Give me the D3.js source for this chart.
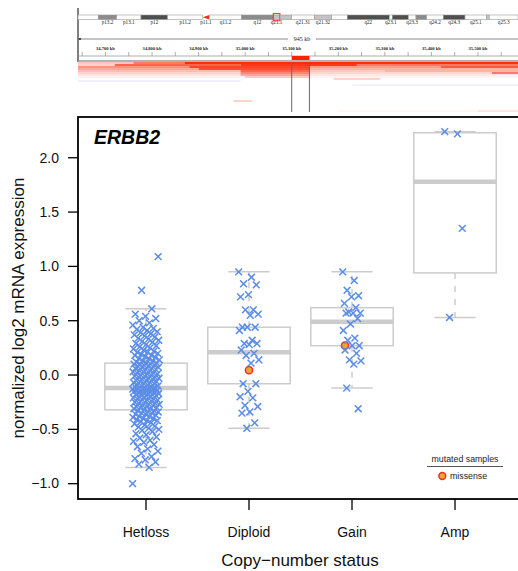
<!DOCTYPE html>
<html>
<head>
<meta charset="utf-8">
<script src="https://cdn.jsdelivr.net/npm/d3@7"></script>
<style>
  body { margin: 0; background: #fff; }
  svg { display: block; }
  text { font-family: "Liberation Sans", Arial, sans-serif; }
  .tiny { font-family: "Liberation Serif", "DejaVu Serif", serif; }
</style>
</head>
<body>
<svg id="chart" width="518" height="571"></svg>
<script>
(function() {
  // ---- data ----
  var categories = ['Hetloss', 'Diploid', 'Gain', 'Amp'];

  // boxplot statistics as drawn (low whisker, q1, median, q3, high whisker)
  var boxLow = [-0.85, -0.49, -0.12, 0.53];
  var boxQ1 = [-0.32, -0.08, 0.27, 0.94];
  var boxMed = [-0.12, 0.21, 0.49, 1.78];
  var boxQ3 = [0.11, 0.44, 0.62, 2.23];
  var boxHigh = [0.61, 0.95, 0.95, 2.24];

  var hetlossVals = [
    -1.00, -0.85, -0.82, -0.80, -0.78, -0.77, -0.75, -0.72, -0.70, -0.68, -0.66, -0.64,
    -0.62, -0.61, -0.60, -0.58, -0.57, -0.55, -0.54, -0.52, -0.51, -0.50, -0.49, -0.48, -0.47, -0.46, -0.45,
    -0.44, -0.43, -0.42, -0.42, -0.41, -0.40, -0.40, -0.39, -0.38, -0.38, -0.37, -0.36, -0.36, -0.35, -0.35,
    -0.34, -0.34, -0.33, -0.33, -0.32,
    -0.31, -0.31, -0.30, -0.30, -0.29, -0.29, -0.28, -0.28, -0.27, -0.27, -0.26, -0.26, -0.25, -0.25,
    -0.24, -0.24, -0.23, -0.23, -0.22, -0.22, -0.21, -0.21, -0.20, -0.20, -0.19, -0.19, -0.18, -0.18,
    -0.18, -0.17, -0.17, -0.16, -0.16, -0.16, -0.15, -0.15, -0.15, -0.14, -0.14, -0.14, -0.13, -0.13,
    -0.13, -0.12, -0.12, -0.12, -0.12,
    -0.11, -0.11, -0.10, -0.10, -0.09, -0.09, -0.08, -0.08, -0.07, -0.07, -0.06, -0.06, -0.05, -0.05,
    -0.04, -0.04, -0.03, -0.03, -0.02, -0.02, -0.01, -0.01, 0.00, 0.00, 0.01, 0.01, 0.02, 0.02, 0.03,
    0.03, 0.04, 0.04, 0.05, 0.05, 0.06, 0.06, 0.07, 0.07, 0.08, 0.08, 0.09, 0.09, 0.10, 0.10, 0.10,
    0.11, 0.11,
    0.12, 0.13, 0.13, 0.14, 0.15, 0.15, 0.16, 0.17, 0.18, 0.18, 0.19, 0.20, 0.21, 0.21, 0.22, 0.23,
    0.24, 0.25, 0.26, 0.27, 0.28, 0.29, 0.30, 0.31, 0.32, 0.33, 0.34, 0.35, 0.36, 0.37, 0.38, 0.39,
    0.40, 0.41, 0.42, 0.43, 0.44, 0.46, 0.48, 0.50, 0.52, 0.54, 0.56, 0.61, 0.78, 1.09
  ];
  var diploidVals = [
    0.95, 0.90, 0.84, 0.83, 0.74, 0.72, 0.60, 0.60, 0.56, 0.55, 0.44, 0.44, 0.44, 0.41, 0.32,
    0.29, 0.29, 0.28, 0.23, 0.20, 0.18, 0.14, 0.11, -0.08, -0.08, -0.15, -0.20, -0.21, -0.28,
    -0.29, -0.34, -0.35, -0.44, -0.49
  ];
  var gainVals = [
    0.95, 0.87, 0.78, 0.73, 0.72, 0.66, 0.62, 0.58, 0.57, 0.57, 0.57, 0.52, 0.47, 0.41, 0.34,
    0.32, 0.27, 0.27, 0.23, 0.20, 0.14, 0.13, 0.10, -0.12, -0.31
  ];
  var ampVals = [2.24, 2.22, 0.53, 1.35];

  // mutated samples (category index, value)
  var mutCat = [1, 2];
  var mutVal = [0.045, 0.27];
  var mutType = ['missense', 'missense'];

  var yTicks = [-1.0, -0.5, 0.0, 0.5, 1.0, 1.5, 2.0];

  // chromosome 17 ideogram bands (Mb, as drawn)
  var bandName = ['p13.3', 'p13.2', 'p13.1', 'p12', 'p11.2', 'p11.1', 'q11.2', 'q12', 'q21.1', 'q21.2',
    'q21.31', 'q21.32', 'q21.33', 'q22', 'q23.1', 'q23.2', 'q23.3', 'q24.1', 'q24.2', 'q24.3',
    'q25.1', 'q25.2', 'q25.3'];
  var bandStart = [0, 3.64, 6.93, 11.28, 16.06, 22.33, 23.51, 29.32, 34.97, 36.17, 38.27, 42.32,
    45.43, 48.23, 55.75, 56.29, 59.15, 60.53, 62.45, 65.42, 69.31, 73.19, 73.66];
  var bandEnd = [3.64, 6.93, 11.28, 16.06, 22.33, 23.51, 29.32, 34.97, 36.17, 38.27, 42.32, 45.43,
    48.23, 55.75, 56.29, 59.15, 60.53, 62.45, 65.42, 69.31, 73.19, 73.66, 78.8];
  var bandStain = ['gneg', 'gpos50', 'gneg', 'gpos75', 'gneg', 'acen', 'gneg', 'gpos50', 'gpos25',
    'gpos25', 'gneg', 'gpos25', 'gneg', 'gpos75', 'gneg', 'gpos75', 'gneg', 'gpos50', 'gneg',
    'gpos75', 'gneg', 'gpos25', 'gneg'];
  var bandLabelled = [false, true, true, true, true, true, true, true, true, false, true, true,
    false, true, true, false, true, false, true, true, true, false, true];
  var focusBand = 'q21.1';

  var kbTicks = [34700, 34800, 34900, 35000, 35100, 35200, 35300, 35400, 35500];
  var kbMinor = [34650, 34700, 34750, 34800, 34850, 34900, 34950, 35000, 35050, 35100, 35150,
    35200, 35250, 35300, 35350, 35400, 35450, 35500, 35550];
  var regionKb = [34641, 35586];
  var spanKb = 945;
  var geneKb = [35100, 35138];

  // copy-number heatmap rows: segments [start kb, end kb, value]
  var heatRows = [
    [[34641, 34760, 0.25], [34760, 34870, 0.6], [34870, 35586, 0.95]],
    [[34641, 34720, 0.2], [34720, 34990, 0.7], [34990, 35240, 0.9], [35240, 35586, 0.6]],
    [[34641, 34880, 0.5], [34880, 35140, 0.85], [35140, 35420, 0.45], [35420, 35586, 0.75]],
    [[34641, 34900, 0.4], [34900, 35140, 0.8], [35140, 35586, 0.35]],
    [[34641, 34990, 0.3], [34990, 35140, 0.7], [35140, 35300, 0.25], [35300, 35586, 0.35]],
    [[34641, 34990, 0.2], [34990, 35140, 0.55], [35140, 35530, 0.18], [35530, 35586, 0.6]],
    [[34641, 34990, 0.12], [34990, 35140, 0.4], [35140, 35586, 0.1]],
    [[34641, 35000, 0.06], [35000, 35140, 0.25], [35140, 35586, 0.05]],
    [[35190, 35290, 0.2]],
    [[34641, 34990, -0.07]],
    [],
    [[35230, 35586, -0.06]],
    [], [], [], [], [], [], [],
    [[34975, 35015, 0.2]],
    [], [], [], [],
    [[35200, 35500, 0.04], [35500, 35586, 0.12]]
  ];

  // ---- layout ----
  var svg = d3.select('#chart');
  var left = 78, right = 523, top = 117, bottom = 499;
  var crossColor = '#5b8de8', boxColor = '#cccccc';

  var x = d3.scaleLinear().domain([0.34, 4.66]).range([left, right]);
  var y = d3.scaleLinear().domain([-1.141, 2.375]).range([bottom, top]);
  var mb = d3.scaleLinear().domain([0, 78.8]).range([78, 518]);
  var kb = d3.scaleLinear().domain(regionKb).range([78, 518]);
  var heat = d3.scaleLinear().domain([-1, 0, 1]).range(['#2020ff', '#ffffff', '#ff2200']);
  var stainFill = { gneg: '#ffffff', gpos25: '#c4c4c4', gpos50: '#8c8c8c', gpos75: '#4f4f4f' };

  // ---- header: ideogram ----
  var ideo = svg.append('g');
  ideo.append('line').attr('x1', 78).attr('x2', 78).attr('y1', 8).attr('y2', 62)
    .attr('stroke', '#000').attr('stroke-width', 1);
  bandName.forEach(function(name, i) {
    if (bandStain[i] === 'acen') {
      ideo.append('polygon')
        .attr('points', [[mb(bandStart[i]), 17.3], [mb(bandEnd[i]), 15], [mb(bandEnd[i]), 19.6]].join(' '))
        .attr('fill', '#e8341c');
    } else {
      ideo.append('rect').attr('x', mb(bandStart[i])).attr('y', 15)
        .attr('width', mb(bandEnd[i]) - mb(bandStart[i])).attr('height', 4.6)
        .attr('fill', stainFill[bandStain[i]]).attr('stroke', '#999').attr('stroke-width', 0.6);
    }
    if (bandLabelled[i]) {
      ideo.append('text').attr('class', 'tiny')
        .attr('x', (mb(bandStart[i]) + mb(bandEnd[i])) / 2).attr('y', 24)
        .attr('text-anchor', 'middle').attr('font-size', 5.2).attr('fill', '#222').text(name);
    }
    if (name === focusBand) {
      ideo.append('rect').attr('x', mb(bandStart[i])).attr('y', 13.6)
        .attr('width', mb(bandEnd[i]) - mb(bandStart[i])).attr('height', 7.2)
        .attr('fill', 'none').attr('stroke', '#e8341c').attr('stroke-width', 1);
    }
  });

  // region width line
  ideo.append('line').attr('x1', 78).attr('x2', 288).attr('y1', 39).attr('y2', 39)
    .attr('stroke', '#555').attr('stroke-width', 0.7);
  ideo.append('line').attr('x1', 316).attr('x2', 518).attr('y1', 39).attr('y2', 39)
    .attr('stroke', '#555').attr('stroke-width', 0.7);
  ideo.append('circle').attr('cx', 80).attr('cy', 39).attr('r', 1).attr('fill', '#222');
  ideo.append('text').attr('class', 'tiny').attr('x', 302).attr('y', 41)
    .attr('text-anchor', 'middle').attr('font-size', 6).attr('fill', '#222').text(spanKb + ' kb');

  // kb ruler
  ideo.selectAll('.kblab').data(kbTicks).enter().append('text').attr('class', 'tiny')
    .attr('x', function(d) { return kb(d); }).attr('y', 49.8).attr('text-anchor', 'middle')
    .attr('font-size', 4.6).attr('font-weight', 'bold').attr('fill', '#222')
    .text(function(d) { return d3.format(',')(d) + ' kb'; });
  ideo.selectAll('.kbtick').data(kbMinor).enter().append('line')
    .attr('x1', function(d) { return kb(d); }).attr('x2', function(d) { return kb(d); })
    .attr('y1', 52).attr('y2', 56).attr('stroke', '#777').attr('stroke-width', 0.6);
  ideo.append('line').attr('x1', 78).attr('x2', 518).attr('y1', 56).attr('y2', 56)
    .attr('stroke', '#999').attr('stroke-width', 0.8);
  ideo.append('rect').attr('x', kb(geneKb[0])).attr('y', 56)
    .attr('width', kb(geneKb[1]) - kb(geneKb[0])).attr('height', 4).attr('fill', '#ff2200');
  ideo.append('line').attr('x1', 78).attr('x2', 518).attr('y1', 61).attr('y2', 61)
    .attr('stroke', '#999').attr('stroke-width', 1.4);

  // heatmap
  heatRows.forEach(function(segs, r) {
    segs.forEach(function(s) {
      ideo.append('rect').attr('x', kb(s[0])).attr('y', 62 + r * 2)
        .attr('width', kb(s[1]) - kb(s[0])).attr('height', 2).attr('fill', heat(s[2]));
    });
  });
  geneKb.forEach(function(g) {
    ideo.append('line').attr('x1', kb(g)).attr('x2', kb(g)).attr('y1', 62).attr('y2', 112)
      .attr('stroke', '#666').attr('stroke-width', 1);
  });

  // ---- main plot ----
  var plot = svg.append('g');

  // boxes
  categories.forEach(function(c, i) {
    var cx = x(i + 1), bw = x(0.4) - x(0), cw = x(0.2) - x(0);
    plot.append('line').attr('x1', cx).attr('x2', cx).attr('y1', y(boxQ3[i])).attr('y2', y(boxHigh[i]))
      .attr('stroke', boxColor).attr('stroke-width', 1.5).attr('stroke-dasharray', '6,7');
    plot.append('line').attr('x1', cx).attr('x2', cx).attr('y1', y(boxQ1[i])).attr('y2', y(boxLow[i]))
      .attr('stroke', boxColor).attr('stroke-width', 1.5).attr('stroke-dasharray', '6,7');
    [boxLow[i], boxHigh[i]].forEach(function(v) {
      plot.append('line').attr('x1', cx - cw).attr('x2', cx + cw).attr('y1', y(v)).attr('y2', y(v))
        .attr('stroke', boxColor).attr('stroke-width', 1.5);
    });
    plot.append('rect').attr('x', cx - bw).attr('y', y(boxQ3[i]))
      .attr('width', 2 * bw).attr('height', y(boxQ1[i]) - y(boxQ3[i]))
      .attr('fill', 'none').attr('stroke', boxColor).attr('stroke-width', 1.5);
    plot.append('line').attr('x1', cx - bw).attr('x2', cx + bw).attr('y1', y(boxMed[i])).attr('y2', y(boxMed[i]))
      .attr('stroke', boxColor).attr('stroke-width', 4.5);
  });

  // mutated samples
  mutCat.forEach(function(c, k) {
    plot.append('circle').attr('cx', x(c + 1) - (c === 2 ? 7 : 0)).attr('cy', y(mutVal[k])).attr('r', 3.6)
      .attr('fill', '#f2a23a').attr('stroke', '#e8341c').attr('stroke-width', 1.5);
  });

  // points
  var series = [hetlossVals, diploidVals, gainVals, ampVals];
  var jitterWidth = [0.26, 0.2, 0.18, 0.2];
  series.forEach(function(vals, i) {
    plot.selectAll('.pt' + i).data(vals).enter().append('path')
      .attr('transform', function(d, k) {
        var off = ((k * 0.618034) % 1 - 0.5) * jitterWidth[i];
        return 'translate(' + x(i + 1 + off) + ',' + y(d) + ')';
      })
      .attr('d', 'M-3.4,-3.4L3.4,3.4M-3.4,3.4L3.4,-3.4')
      .attr('stroke', crossColor).attr('stroke-width', 1.5).attr('fill', 'none');
  });

  // frame
  plot.append('rect').attr('x', left).attr('y', top).attr('width', right - left).attr('height', bottom - top)
    .attr('fill', 'none').attr('stroke', '#000').attr('stroke-width', 1.8);

  // y axis
  plot.selectAll('.ytick').data(yTicks).enter().append('line')
    .attr('x1', left - 10).attr('x2', left).attr('y1', function(d) { return y(d); }).attr('y2', function(d) { return y(d); })
    .attr('stroke', '#000').attr('stroke-width', 1.3);
  plot.selectAll('.ylab').data(yTicks).enter().append('text')
    .attr('x', 59).attr('y', function(d) { return y(d) + 4.8; }).attr('text-anchor', 'end')
    .attr('font-size', 14).attr('fill', '#111').text(function(d) { return d3.format('.1f')(d); });

  // x axis
  categories.forEach(function(c, i) {
    plot.append('line').attr('x1', x(i + 1)).attr('x2', x(i + 1)).attr('y1', bottom).attr('y2', bottom + 11)
      .attr('stroke', '#000').attr('stroke-width', 1.3);
    plot.append('text').attr('x', x(i + 1)).attr('y', 537).attr('text-anchor', 'middle')
      .attr('font-size', 14).attr('fill', '#111').text(c);
  });

  plot.append('text').attr('x', 300).attr('y', 566).attr('text-anchor', 'middle')
    .attr('font-size', 17).attr('fill', '#111').text('Copy\u2212number status');
  plot.append('text').attr('transform', 'translate(24,' + ((top + bottom) / 2) + ') rotate(-90)')
    .attr('text-anchor', 'middle').attr('font-size', 17).attr('fill', '#111')
    .text('normalized log2 mRNA expression');

  plot.append('text').attr('x', 94).attr('y', 143.5).attr('font-size', 19.5)
    .attr('font-weight', 'bold').attr('font-style', 'italic').attr('fill', '#000').text('ERBB2');

  // legend
  var lg = plot.append('g');
  lg.append('text').attr('x', 465).attr('y', 462).attr('text-anchor', 'middle')
    .attr('font-size', 8.8).attr('fill', '#222').text('mutated samples');
  lg.append('line').attr('x1', 427).attr('x2', 503).attr('y1', 466.5).attr('y2', 466.5)
    .attr('stroke', '#444').attr('stroke-width', 0.9);
  lg.append('circle').attr('cx', 442.3).attr('cy', 476).attr('r', 3.4)
    .attr('fill', '#f2a23a').attr('stroke', '#e8341c').attr('stroke-width', 1.5);
  lg.append('text').attr('x', 450).attr('y', 478.5).attr('font-size', 8.8).attr('fill', '#222').text(mutType[0]);
})();
</script>
</body>
</html>
